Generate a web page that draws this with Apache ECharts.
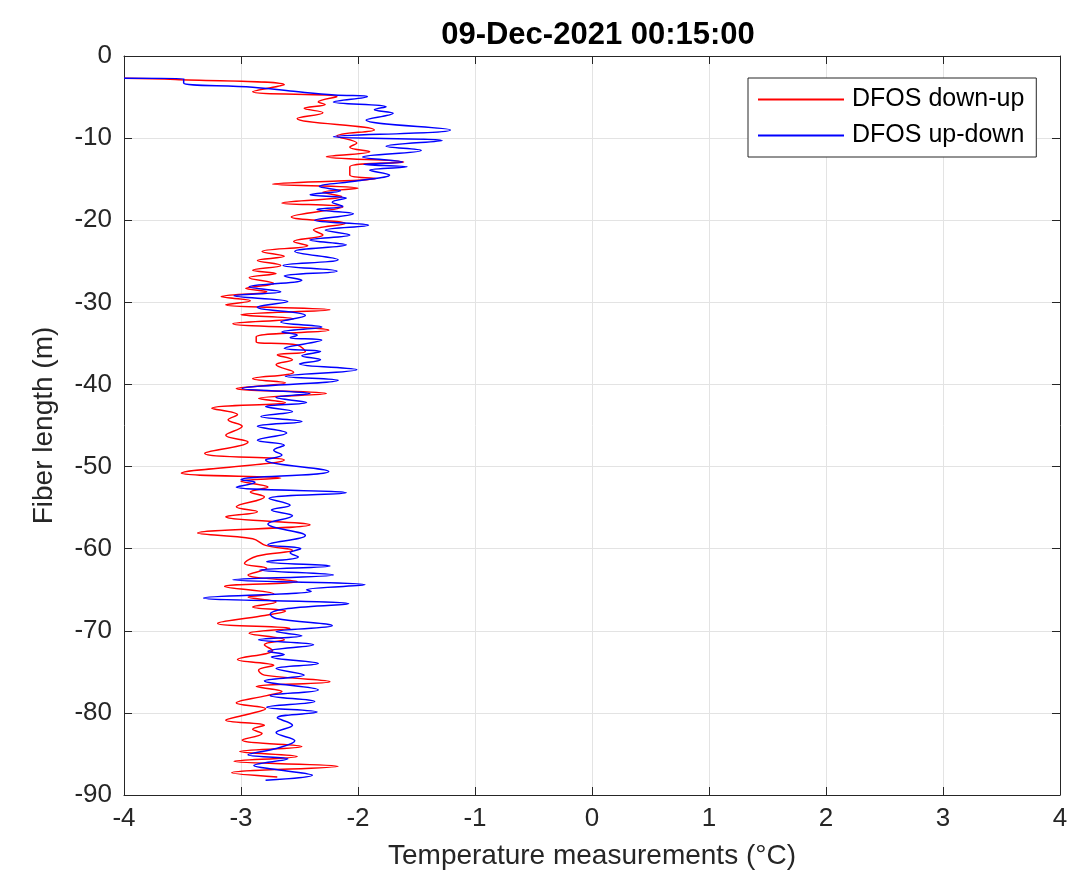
<!DOCTYPE html>
<html>
<head>
<meta charset="utf-8">
<script src="https://cdn.jsdelivr.net/npm/echarts@6/dist/echarts.min.js"></script>
<style>
  html, body { margin: 0; padding: 0; background: #fff; }
  #chart { width: 1077px; height: 894px; }
</style>
</head>
<body>
<div id="chart"></div>
<script>
const chartTitle = "09-Dec-2021 00:15:00";
const seriesNames = ["DFOS down-up", "DFOS up-down"];

// DFOS down-up (red): temperature (°C) and depth (m)
const downUpTemp = [
  -4.0, -3.56, -2.63, -2.90, -2.18, -2.34, -2.28, -2.46, -2.30, -2.52,
  -1.86, -2.18, -2.01, -2.07, -1.90, -2.27, -1.61, -2.07, -2.07, -1.84,
  -2.73, -2.0, -2.30, -2.14, -2.65, -2.13, -2.57, -2.11, -2.38, -2.30,
  -2.55, -2.43, -2.82, -2.63, -2.86, -2.66, -2.90, -2.70, -2.93, -2.72,
  -2.96, -2.78, -3.17, -2.92, -3.13, -2.24, -3.0, -2.55, -3.07, -2.25,
  -2.87, -2.87, -2.52, -2.45, -2.69, -2.56, -2.70, -2.55, -2.90, -2.62,
  -3.04, -2.27, -2.85, -2.62, -3.25, -3.03, -3.11, -2.99, -3.13, -2.94,
  -3.31, -2.63, -3.51, -2.66, -3.0, -2.77, -2.92, -2.80, -3.04, -2.86,
  -3.13, -2.41, -3.37, -2.90, -2.79, -2.56, -2.86, -2.97, -2.78, -2.94,
  -2.52, -3.14, -2.72, -2.94, -2.70, -2.90, -2.62, -2.83, -3.20, -2.58,
  -2.93, -2.63, -2.80, -2.73, -3.03, -2.72, -2.85, -2.80, -2.24, -2.87,
  -2.65, -2.78, -3.04, -2.79, -2.95, -3.13, -2.80, -2.90, -2.82, -2.99,
  -2.48, -3.01, -2.52, -3.06, -2.17, -3.08, -2.69
];
const downUpDepth = [
  -2.7, -2.85, -3.5, -4.35, -4.95, -5.6, -5.9, -6.37, -6.9, -7.6,
  -9.0, -9.75, -10.6, -11.1, -11.65, -12.26, -12.9, -13.5, -14.5, -14.9,
  -15.6, -16.1, -16.6, -17.1, -17.9, -18.4, -19.6, -20.4, -21.2, -21.8,
  -22.6, -23.1, -23.8, -24.4, -24.9, -25.5, -26.1, -26.5, -27.0, -27.7,
  -28.3, -28.7, -29.3, -29.8, -30.3, -30.9, -31.5, -32.0, -32.6, -33.4,
  -34.2, -34.8, -35.2, -36.0, -36.4, -37.0, -37.6, -38.5, -39.3, -39.8,
  -40.5, -41.1, -41.7, -42.2, -42.9, -43.7, -44.3, -45.1, -46.2, -47.0,
  -48.4, -49.2, -50.8, -51.4, -51.8, -52.5, -53.1, -53.7, -54.9, -55.5,
  -56.1, -57.1, -58.1, -58.8, -59.6, -60.2, -60.9, -61.8, -62.4, -63.2,
  -64.0, -64.6, -65.5, -65.9, -66.5, -67.1, -67.6, -68.2, -69.1, -69.7,
  -70.3, -71.1, -71.7, -72.4, -73.5, -74.2, -74.8, -75.4, -76.2, -76.8,
  -77.4, -77.9, -78.8, -79.5, -80.2, -80.9, -81.5, -82.0, -82.5, -83.3,
  -84.1, -84.7, -85.3, -85.9, -86.5, -87.3, -87.8
];

// DFOS up-down (blue): temperature (°C) and depth (m)
const upDownTemp = [
  -4.0, -3.49, -3.49, -2.90, -2.55, -2.20, -1.92, -2.21, -1.76, -1.86,
  -1.70, -1.93, -1.21, -2.21, -1.28, -1.76, -1.46, -1.96, -1.62, -1.95,
  -1.58, -1.90, -1.73, -2.0, -2.33, -2.15, -2.41, -2.10, -2.22, -2.13,
  -2.35, -2.04, -2.37, -1.91, -2.28, -2.07, -2.41, -2.10, -2.54, -2.17,
  -2.64, -2.18, -2.63, -2.48, -2.93, -2.66, -3.06, -2.60, -2.86, -2.45,
  -2.66, -2.31, -2.65, -2.52, -2.58, -2.31, -2.63, -2.32, -2.48, -2.32,
  -2.50, -2.01, -2.62, -2.17, -2.99, -2.41, -2.70, -2.44, -2.79, -2.56,
  -2.83, -2.48, -2.86, -2.61, -2.86, -2.63, -2.72, -2.65, -2.79, -2.25,
  -3.0, -2.88, -3.04, -2.10, -2.76, -2.58, -2.74, -2.56, -2.77, -2.45,
  -2.77, -2.49, -2.58, -2.51, -2.78, -2.24, -2.84, -2.21, -3.07, -1.94,
  -2.44, -2.40, -3.32, -2.08, -2.60, -2.75, -2.70, -2.22, -2.70, -2.48,
  -2.85, -2.38, -2.77, -2.63, -2.74, -2.34, -2.70, -2.46, -2.80, -2.34,
  -2.75, -2.37, -2.78, -2.35, -2.69, -2.56, -2.70, -2.54, -2.69, -2.94,
  -2.60, -2.89, -2.70, -2.39, -2.79
];
const upDownDepth = [
  -2.7, -2.75, -3.3, -3.8, -4.3, -4.75, -4.95, -5.6, -6.17, -6.55,
  -6.98, -7.8, -9.0, -9.83, -10.3, -11.0, -11.5, -12.3, -12.9, -13.2,
  -13.5, -13.9, -14.5, -15.2, -15.9, -16.4, -16.9, -17.3, -17.8, -18.3,
  -18.7, -19.2, -20.0, -20.6, -21.2, -21.8, -22.4, -23.0, -23.8, -24.8,
  -25.5, -26.2, -26.8, -27.3, -28.1, -28.7, -29.2, -29.9, -30.6, -31.6,
  -32.4, -33.0, -33.6, -34.0, -34.3, -34.6, -35.6, -36.0, -36.5, -37.0,
  -37.5, -38.2, -39.0, -39.5, -40.5, -41.1, -41.6, -42.2, -42.7, -43.3,
  -43.9, -44.5, -45.1, -45.9, -46.8, -47.4, -48.0, -48.6, -49.2, -50.6,
  -51.6, -51.9, -52.5, -53.2, -53.9, -54.7, -55.3, -56.0, -57.0, -58.4,
  -59.5, -60.0, -60.5, -61.0, -61.6, -62.1, -62.6, -63.2, -63.8, -64.4,
  -65.0, -65.2, -66.0, -66.7, -67.3, -68.0, -68.5, -69.4, -70.1, -70.6,
  -71.1, -71.7, -72.5, -72.9, -73.2, -74.0, -74.6, -75.4, -76.1, -77.2,
  -77.9, -78.6, -79.3, -79.9, -80.6, -81.5, -82.4, -83.4, -84.3, -85.1,
  -85.6, -86.4, -86.9, -87.6, -88.2
];

const xTicks = [-4, -3, -2, -1, 0, 1, 2, 3, 4];
const yTicks = [0, -10, -20, -30, -40, -50, -60, -70, -80, -90];

const pair = (t, d) => t.map((v, i) => [v, d[i]]);
const axisColor = "#262626";
const font = "'Liberation Sans', Arial, sans-serif";

const chart = echarts.init(document.getElementById("chart"));

const baseX = {
  type: "value",
  min: xTicks[0],
  max: xTicks[xTicks.length - 1],
  interval: 1,
  axisLine: { onZero: false, lineStyle: { color: axisColor, width: 1 } },
  axisTick: { inside: true, length: 8, lineStyle: { color: axisColor } },
  splitLine: { show: false }
};
const baseY = {
  type: "value",
  min: yTicks[yTicks.length - 1],
  max: yTicks[0],
  interval: 10,
  axisLine: { onZero: false, lineStyle: { color: axisColor, width: 1 } },
  axisTick: { inside: true, length: 8, lineStyle: { color: axisColor } },
  splitLine: { show: false }
};

chart.setOption({
  animation: false,
  backgroundColor: "#fff",
  title: {
    text: chartTitle,
    left: 593,
    top: 15,
    textAlign: "center",
    textStyle: { fontFamily: font, fontSize: 31, fontWeight: "bold", color: "#000" }
  },
  legend: {
    orient: "vertical",
    left: 748,
    top: 78,
    data: seriesNames,
    icon: "rect",
    padding: [9, 12, 9, 10],
    itemGap: 11,
    itemWidth: 86,
    itemHeight: 2,
    borderColor: axisColor,
    borderWidth: 1,
    backgroundColor: "#fff",
    textStyle: { fontFamily: font, fontSize: 25, color: "#000", padding: [0, 0, 0, 3] }
  },
  grid: { left: 124, right: 17, top: 56, bottom: 99 },
  xAxis: [
    Object.assign({}, baseX, {
      position: "bottom",
      name: "Temperature measurements (°C)",
      nameLocation: "middle",
      nameGap: 47,
      nameTextStyle: { fontFamily: font, fontSize: 28, color: axisColor },
      axisLabel: { fontFamily: font, fontSize: 26, color: axisColor, margin: 11 },
      splitLine: { show: true, lineStyle: { color: "#e3e3e3" } }
    }),
    Object.assign({}, baseX, { position: "top", axisLabel: { show: false } })
  ],
  yAxis: [
    Object.assign({}, baseY, {
      position: "left",
      name: "Fiber length (m)",
      nameLocation: "middle",
      nameGap: 66,
      nameTextStyle: { fontFamily: font, fontSize: 28, color: axisColor },
      axisLabel: { fontFamily: font, fontSize: 26, color: axisColor, margin: 12 },
      splitLine: { show: true, lineStyle: { color: "#e3e3e3" } }
    }),
    Object.assign({}, baseY, { position: "right", axisLabel: { show: false } })
  ],
  series: [
    {
      name: seriesNames[0],
      type: "line",
      data: pair(downUpTemp, downUpDepth),
      symbol: "none",
      smooth: 0.4,
      clip: true,
      color: "#ff0000",
      lineStyle: { width: 1.5, color: "#ff0000" }
    },
    {
      name: seriesNames[1],
      type: "line",
      data: pair(upDownTemp, upDownDepth),
      symbol: "none",
      smooth: 0.4,
      clip: true,
      color: "#0000ff",
      lineStyle: { width: 1.5, color: "#0000ff" }
    }
  ]
});
</script>
</body>
</html>
